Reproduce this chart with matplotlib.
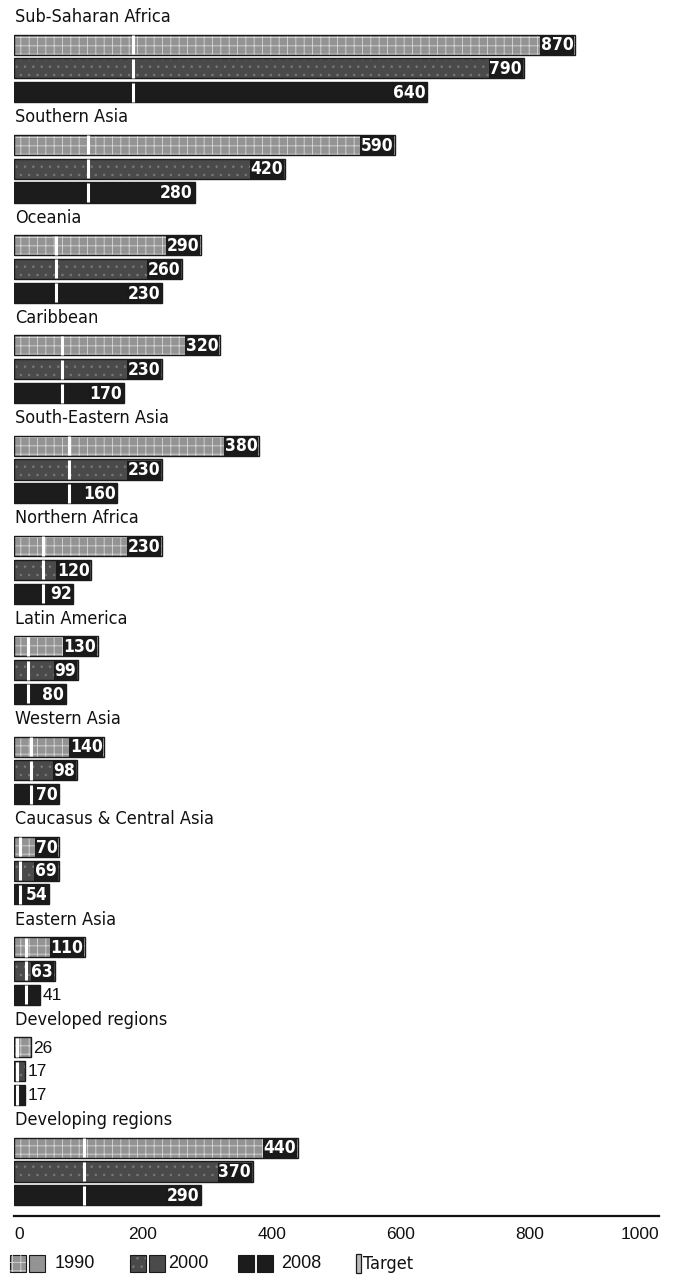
import matplotlib
matplotlib.use("Agg")
import matplotlib.pyplot as plt
from matplotlib.patches import Rectangle
from matplotlib import font_manager
import numpy as np

regions = ["Sub-Saharan Africa", "Southern Asia", "Oceania", "Caribbean",
           "South-Eastern Asia", "Northern Africa", "Latin America", "Western Asia",
           "Caucasus & Central Asia", "Eastern Asia", "Developed regions",
           "Developing regions"]
v1990 = [870, 590, 290, 320, 380, 230, 130, 140, 70, 110, 26, 440]
v2000 = [790, 420, 260, 230, 230, 120, 99, 98, 69, 63, 17, 370]
v2008 = [640, 280, 230, 170, 160, 92, 80, 70, 54, 41, 17, 290]
target = [185, 115, 65, 75, 85, 45, 22, 27, 9, 19, 5, 108]
years = ["1990", "2000", "2008"]
xticks = [0, 200, 400, 600, 800, 1000]

names = {f.name for f in font_manager.fontManager.ttflist}
cond_available = any("Condensed" in f.fname or f.stretch == "condensed"
                     or f.stretch == 'semi-condensed'
                     for f in font_manager.fontManager.ttflist
                     if f.name == "DejaVu Sans")
if "Liberation Sans Narrow" in names:
    NARROW = dict(family=["Liberation Sans Narrow", "DejaVu Sans"])
elif cond_available:
    NARROW = dict(family=["DejaVu Sans"], stretch="condensed")
else:
    NARROW = dict(family=["Roboto", "DejaVu Sans"])
REG = dict(family=["Liberation Sans", "DejaVu Sans"])

W, H = 675, 1283
plt.rcParams['hatch.linewidth'] = 0.6
fig = plt.figure(figsize=(W / 100, H / 100), dpi=100)
fig.patch.set_facecolor("white")

ax_top_px, ax_bot_px = 0, 1216
ax_left_px, ax_right_px = 14, 659
ax = fig.add_axes([ax_left_px / W, 1 - ax_bot_px / H,
                   (ax_right_px - ax_left_px) / W, (ax_bot_px - ax_top_px) / H])

slot = 25.07
first_label_px = 17
ax.set_ylim((ax_bot_px - first_label_px) / slot, (ax_top_px - first_label_px) / slot)
ax.set_xlim(0, 1000)

colors = ["#939393", "#4a4a4a", "#1c1c1c"]
hatch_cols = ["#d8d8d8", "#787878", None]
hatches = ["++", "..", None]
offsets = [1.1, 2.05, 3.0]
bh = 0.8

series = [v1990, v2000, v2008]
for i, reg in enumerate(regions):
    gy = i * 4
    ax.text(2, gy, reg, fontsize=13, va="center", ha="left",
            color="#111111", **NARROW)
    for k, vals in enumerate(series):
        y = gy + offsets[k]
        v = vals[i]
        ax.barh(y, v, height=bh, color=colors[k], edgecolor="none", zorder=2)
        if hatches[k]:
            ax.barh(y, v, height=bh, color="none", edgecolor=hatch_cols[k],
                    hatch=hatches[k], linewidth=0, zorder=3)
        ax.barh(y, v, height=bh, color="none", edgecolor="#1a1a1a",
                linewidth=1.0, zorder=4)
        ax.plot([target[i], target[i]], [y - bh / 2 + 0.02, y + bh / 2 - 0.02],
                color="white", lw=2.2, zorder=5, solid_capstyle="butt")
        if v >= 50:
            ax.text(v - 2.5, y + 0.03, str(v), fontsize=12.5,
                    fontweight="bold", color="white", ha="right", va="center",
                    zorder=6,
                    bbox=dict(boxstyle="square,pad=0.04", fc="#1a1a1a",
                              ec="none"), **NARROW)
        else:
            ax.text(v + 4, y + 0.03, str(v), fontsize=12.5,
                    color="#111111", ha="left", va="center", zorder=6, **REG)

for s in ["top", "right", "left"]:
    ax.spines[s].set_visible(False)
ax.spines["bottom"].set_linewidth(1.6)
ax.spines["bottom"].set_color("#111111")
ax.set_yticks([])
ax.set_xticks(xticks)
ax.set_xticklabels([str(t) for t in xticks], fontsize=12.5,
                   color="#111111", **REG)
ax.tick_params(axis="x", length=0, pad=8)
labs = ax.get_xticklabels()
labs[0].set_ha("left")
labs[-1].set_ha("right")
ax.set_facecolor("none")


def fig_rect(x, y, w, h, **kw):
    r = Rectangle((x / W, 1 - (y + h) / H), w / W, h / H,
                  transform=fig.transFigure, **kw)
    fig.add_artist(r)


ly = 1255
leg_x = [(10, 55), (130, 168), (238, 281)]
for k, (sx, tx) in enumerate(leg_x):
    for j in range(2):
        x0 = sx + j * 19
        fig_rect(x0, ly, 16, 17, facecolor=colors[k], edgecolor="#1a1a1a",
                 linewidth=0.8)
        if hatches[k] and j == 0:
            fig_rect(x0, ly, 16, 17, facecolor="none", edgecolor=hatch_cols[k],
                     hatch=hatches[k], linewidth=0)
    fig.text(tx / W, 1 - (ly + 9) / H, years[k], fontsize=13,
             va="center", ha="left", color="#111111", **REG)

fig_rect(356, ly - 1, 5, 19, facecolor="#bbbbbb", edgecolor="#1a1a1a",
         linewidth=0.9)
fig.text(363 / W, 1 - (ly + 9) / H, "Target", fontsize=13,
         va="center", ha="left", color="#111111", **NARROW)

fig.savefig("out.png", dpi=100, facecolor="white")
